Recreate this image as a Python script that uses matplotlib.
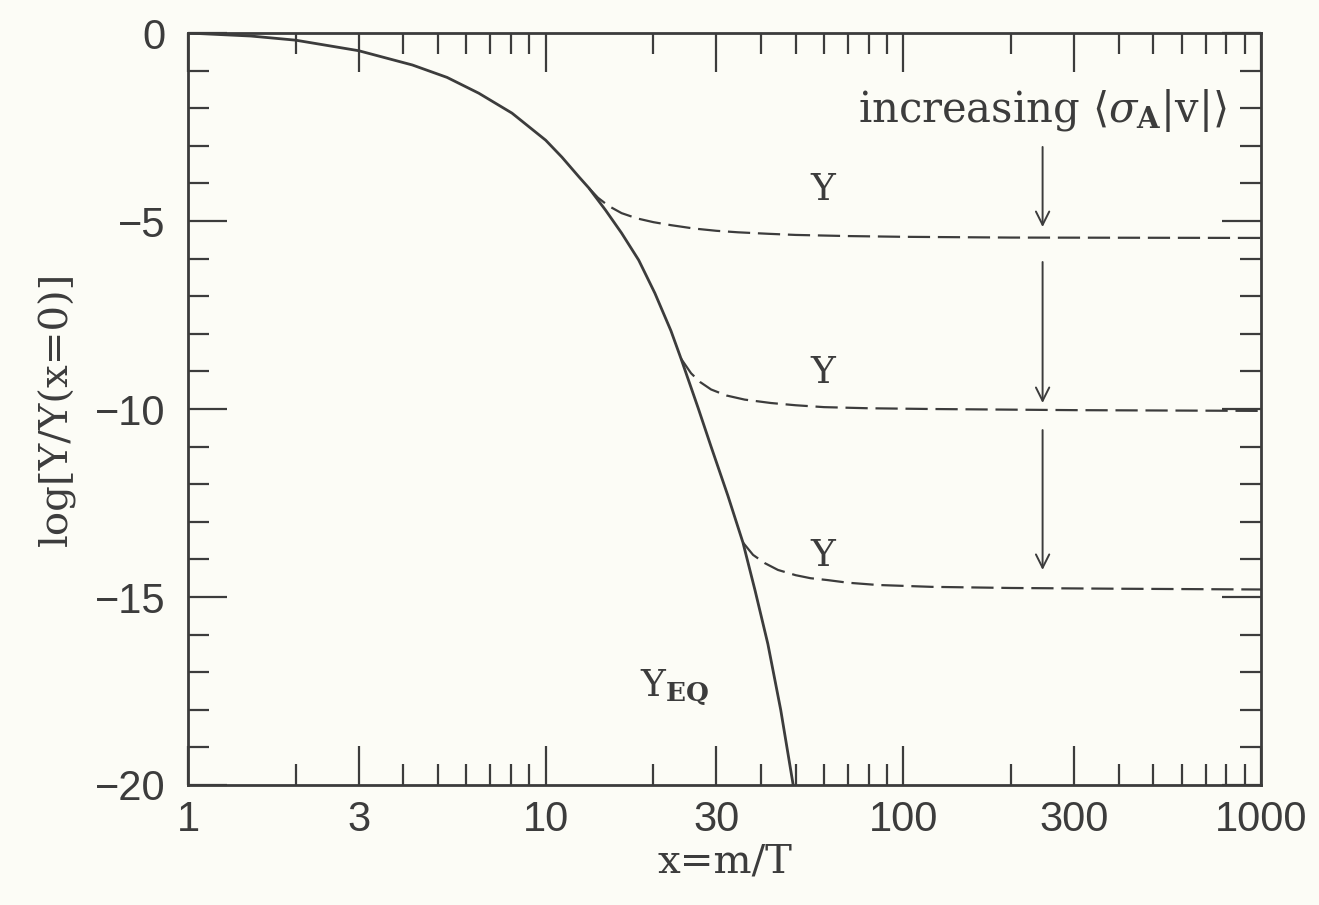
import numpy as np
import matplotlib
matplotlib.use('Agg')
import matplotlib.pyplot as plt
from matplotlib.ticker import FixedLocator, NullFormatter

plt.rcParams['mathtext.fontset'] = 'dejavuserif'

# equilibrium abundance Y_EQ (solid)
x_eq = [1, 1.5, 2, 3, 4.24, 5.3, 6.5, 8.05, 10, 11.1, 12.4, 13.2, 14.7, 16.3,
        18.2, 20.2, 22.4, 23.9, 26.7, 29, 32.3, 35.6, 38.5, 41.8, 45.4, 49.1, 50]
y_eq = [0, -0.08, -0.19, -0.47, -0.85, -1.18, -1.6, -2.13, -2.85, -3.3, -3.83,
        -4.12, -4.71, -5.32, -6.04, -6.92, -7.92, -8.66, -9.98, -11.0, -12.3,
        -13.55, -14.83, -16.25, -18.0, -19.95, -20.4]

# freeze-out curves (dashed)
x_fo1 = [13.2, 14.0, 15.0, 16.3, 18, 20, 22.4, 26, 30, 34.5, 42, 50, 70, 100, 200, 1000]
y_fo1 = [-4.12, -4.38, -4.6, -4.79, -4.93, -5.03, -5.11, -5.2, -5.26, -5.3,
         -5.34, -5.37, -5.4, -5.42, -5.44, -5.45]
x_fo2 = [23.9, 25.5, 27, 29, 32, 36, 42.6, 50, 60, 80, 120, 300, 1000]
y_fo2 = [-8.66, -9.05, -9.28, -9.48, -9.64, -9.75, -9.84, -9.9, -9.95, -9.98,
         -10.0, -10.03, -10.05]
x_fo3 = [35.6, 38, 41, 44.6, 50, 55, 61.4, 70, 84.7, 120, 200, 400, 1000]
y_fo3 = [-13.55, -13.88, -14.1, -14.28, -14.42, -14.5, -14.55, -14.62, -14.68,
         -14.73, -14.76, -14.78, -14.8]

# arrows (start, end) at x ~ 245
arrow_x = 245
arrow_y = [(-3.03, -5.16), (-6.09, -9.84), (-10.56, -14.28)]

xticks = [1, 3, 10, 30, 100, 300, 1000]
xtick_labels = ['1', '3', '10', '30', '100', '300', '1000']
yticks = [0, -5, -10, -15, -20]
ytick_labels = ['0', '\u22125', '\u221210', '\u221215', '\u221220']

ink = '#3c3c3c'
bg = '#fcfcf6'

fig = plt.figure(figsize=(13.19, 9.05), dpi=100, facecolor=bg)
ax = fig.add_axes([0.1425, 0.1326, 0.8136, 0.8309])
ax.set_facecolor(bg)

ax.plot(x_eq, y_eq, color=ink, lw=2.0, solid_joinstyle='round')
for xs, ys in [(x_fo1, y_fo1), (x_fo2, y_fo2), (x_fo3, y_fo3)]:
    ax.plot(xs, ys, color=ink, lw=1.6, dashes=(10, 3.5))

for y0, y1 in arrow_y:
    ax.annotate('', xy=(arrow_x, y1), xytext=(arrow_x, y0),
                arrowprops=dict(arrowstyle='->', color=ink, lw=1.4,
                                mutation_scale=24, shrinkA=0, shrinkB=0))

ax.set_xscale('log')
ax.set_xlim(1, 1000)
ax.set_ylim(-20, 0)

minor_x = [m * d for d in [1, 10, 100] for m in range(2, 10)]
minor_x = [v for v in minor_x if v not in (3, 30, 300)]
ax.xaxis.set_major_locator(FixedLocator(xticks))
ax.xaxis.set_minor_locator(FixedLocator(minor_x))
ax.xaxis.set_minor_formatter(NullFormatter())
ax.set_xticklabels(xtick_labels)
ax.set_yticks(yticks)
ax.set_yticklabels(ytick_labels)
ax.yaxis.set_minor_locator(FixedLocator([v for v in range(-19, 0) if v % 5 != 0]))

ax.tick_params(which='both', direction='in', top=True, right=True, color=ink,
               labelcolor=ink, labelsize=30)
ax.tick_params(axis='x', pad=11)
ax.tick_params(axis='y', pad=16)
ax.tick_params(which='major', length=28, width=1.6)
ax.tick_params(which='minor', length=15, width=1.6)
for lab in ax.get_xticklabels() + ax.get_yticklabels():
    lab.set_family('Liberation Sans')
for sp in ax.spines.values():
    sp.set_color(ink)
    sp.set_linewidth(2.0)

ax.set_xlabel('x=m/T', fontsize=29, family='DejaVu Serif', color=ink, labelpad=2)
ax.set_ylabel('log[Y/Y(x=0)]', fontsize=29, family='DejaVu Serif', color=ink, labelpad=14)

txt = dict(family='DejaVu Serif', color=ink, ha='center', va='center')
ax.text(59.5, -4.17, 'Y', fontsize=27, **txt)
ax.text(59.5, -9.04, 'Y', fontsize=27, **txt)
ax.text(59.5, -13.9, 'Y', fontsize=27, **txt)
ax.text(23, -17.4, r'Y$_{\mathbf{EQ}}$', fontsize=27, **txt)
ax.text(245, -2.05, r'increasing $\langle\sigma_{\mathbf{A}}|\mathrm{v}|\rangle$',
        fontsize=30, **txt)

plt.savefig('out.png', dpi=100, facecolor=bg)
